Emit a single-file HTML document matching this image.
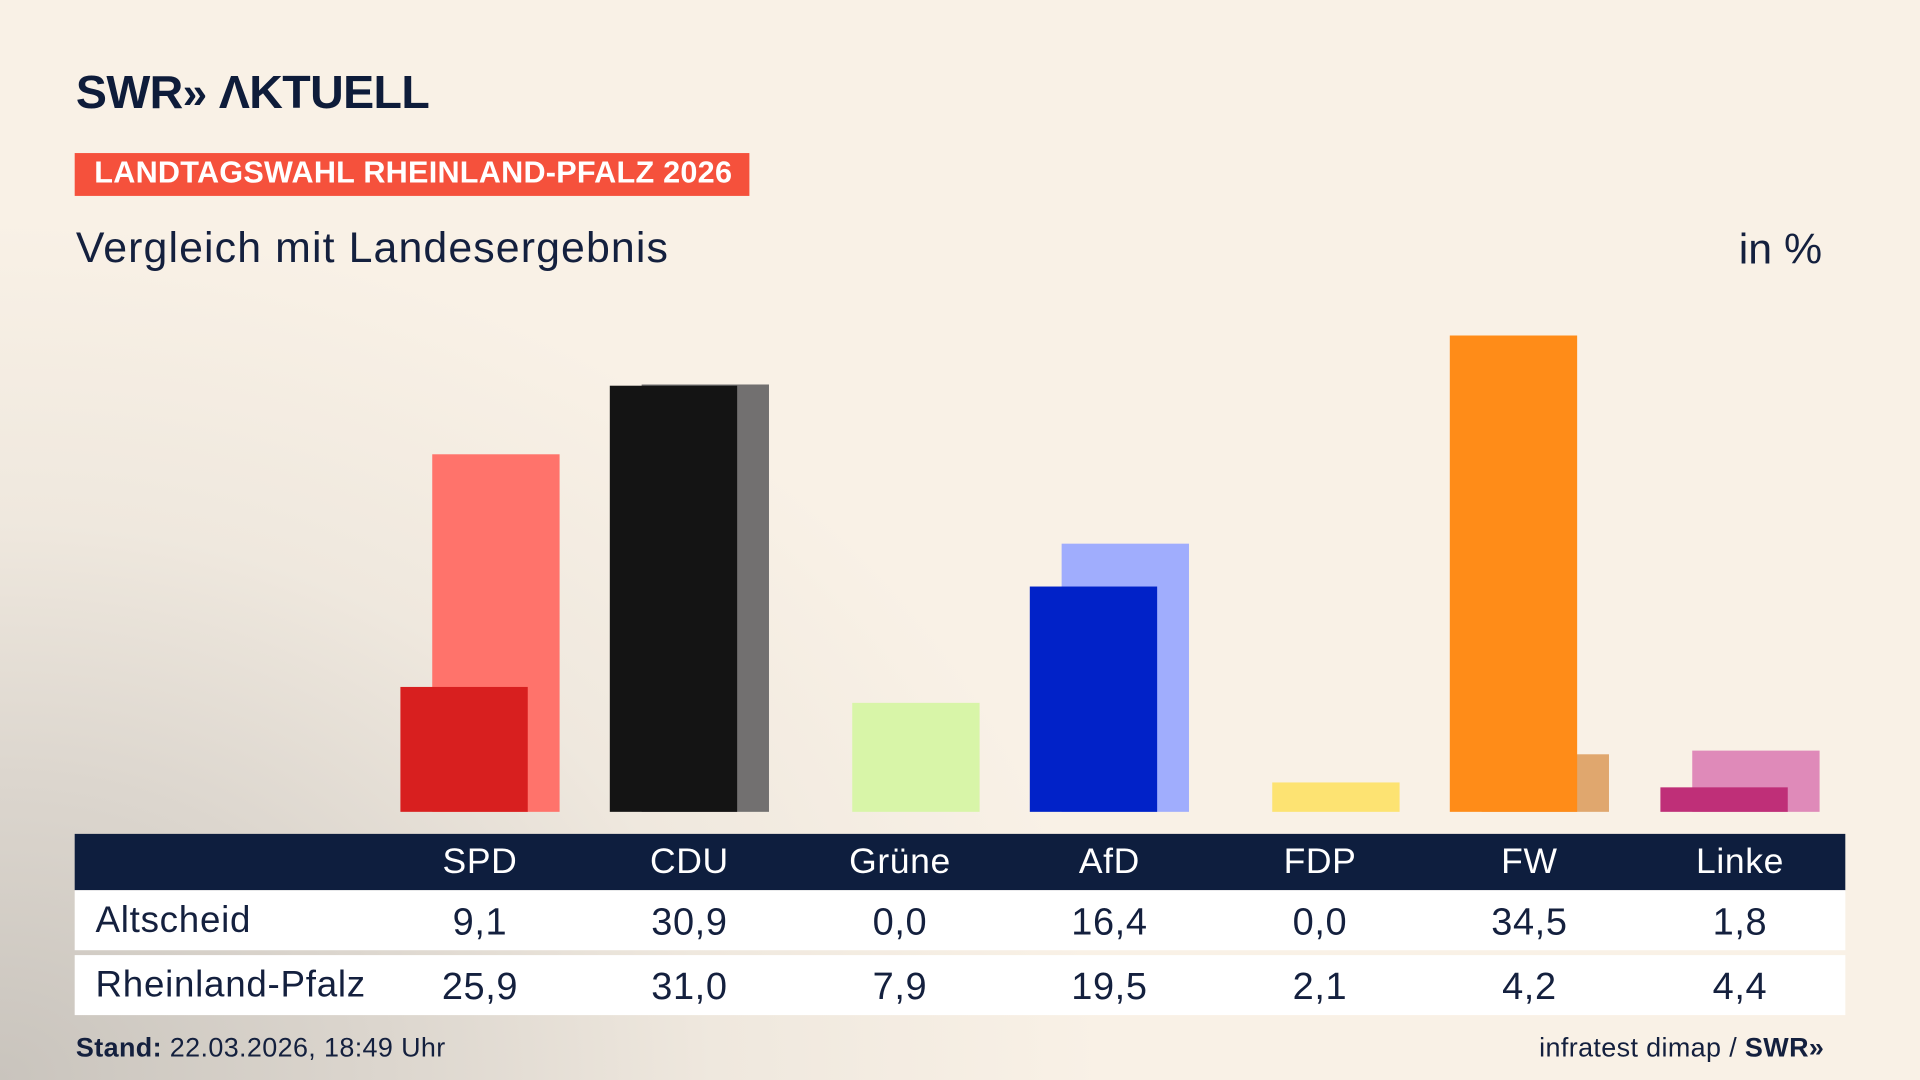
<!DOCTYPE html>
<html><head><meta charset="utf-8"><style>
html,body{margin:0;padding:0;width:1920px;height:1080px;overflow:hidden}
#w{position:absolute;left:0;top:0;width:1568px;height:882px;transform:scale(1.22449);transform-origin:0 0;
background:radial-gradient(ellipse 900px 700px at 0px 880px,#c9c4bd 0%,#dcd6ce 35%,#efe8de 65%,rgba(248,240,229,0) 100%),#f9f1e6;
font-family:"Liberation Sans","DejaVu Sans",sans-serif;color:#0e1c3a}
.a{position:absolute;white-space:nowrap}
.b{position:absolute}
.t{position:absolute;width:140px;text-align:center;font-size:31px;letter-spacing:0.5px}
</style></head><body><div id="w">
<div class="a" style="left:62px;top:55px;font-size:38px;font-weight:bold;letter-spacing:-0.5px;color:#0e1c3a">SWR<span style="font-size:36px">»</span> ΛKTUELL</div>
<div class="a" style="left:61px;top:125px;width:551px;height:35px;background:#f5513c"></div>
<div class="a" style="left:77px;top:127px;font-size:25px;font-weight:bold;color:#fff;letter-spacing:0.2px">LANDTAGSWAHL RHEINLAND-PFALZ 2026</div>
<div class="a" style="left:62px;top:183px;font-size:35px;color:#14203e;letter-spacing:0.9px">Vergleich mit Landesergebnis</div>
<div class="a" style="left:1420px;top:184px;font-size:35px;color:#14203e">in %</div>

<div class="b" style="left:353px;top:371px;width:104px;height:292px;background:#ff736b"></div>
<div class="b" style="left:327px;top:561px;width:104px;height:102px;background:#d81f1f"></div>
<div class="b" style="left:524px;top:314px;width:104px;height:349px;background:#727070"></div>
<div class="b" style="left:498px;top:315px;width:104px;height:348px;background:#141414"></div>
<div class="b" style="left:696px;top:574px;width:104px;height:89px;background:#d8f5a8"></div>
<div class="b" style="left:867px;top:444px;width:104px;height:219px;background:#a0adfd"></div>
<div class="b" style="left:841px;top:479px;width:104px;height:184px;background:#0122c8"></div>
<div class="b" style="left:1039px;top:639px;width:104px;height:24px;background:#fde372"></div>
<div class="b" style="left:1210px;top:616px;width:104px;height:47px;background:#e0a76e"></div>
<div class="b" style="left:1184px;top:274px;width:104px;height:389px;background:#ff8c18"></div>
<div class="b" style="left:1382px;top:613px;width:104px;height:50px;background:#df8ab9"></div>
<div class="b" style="left:1356px;top:643px;width:104px;height:20px;background:#bf2f78"></div>

<div class="a" style="left:61px;top:681px;width:1446px;height:46px;background:#0e1e3e"></div>
<div class="a" style="left:61px;top:727px;width:1446px;height:49px;background:#fff"></div>
<div class="a" style="left:61px;top:780px;width:1446px;height:49px;background:#fff"></div>
<div style="position:absolute;left:0;top:688px;color:#fff">
<div class="t" style="left:322px;font-size:29px">SPD</div><div class="t" style="left:493px;font-size:29px">CDU</div><div class="t" style="left:665px;font-size:29px">Grüne</div><div class="t" style="left:836px;font-size:29px">AfD</div><div class="t" style="left:1008px;font-size:29px">FDP</div><div class="t" style="left:1179px;font-size:29px">FW</div><div class="t" style="left:1351px;font-size:29px">Linke</div></div>
<div style="position:absolute;left:0;top:735px;color:#14203e">
<div class="a" style="left:78px;font-size:30px;letter-spacing:0.6px">Altscheid</div>
<div class="t" style="left:322px">9,1</div><div class="t" style="left:493px">30,9</div><div class="t" style="left:665px">0,0</div><div class="t" style="left:836px">16,4</div><div class="t" style="left:1008px">0,0</div><div class="t" style="left:1179px">34,5</div><div class="t" style="left:1351px">1,8</div></div>
<div style="position:absolute;left:0;top:788px;color:#14203e">
<div class="a" style="left:78px;font-size:30px;letter-spacing:0.6px">Rheinland-Pfalz</div>
<div class="t" style="left:322px">25,9</div><div class="t" style="left:493px">31,0</div><div class="t" style="left:665px">7,9</div><div class="t" style="left:836px">19,5</div><div class="t" style="left:1008px">2,1</div><div class="t" style="left:1179px">4,2</div><div class="t" style="left:1351px">4,4</div></div>
<div class="a" style="left:62px;top:843px;font-size:22px;color:#14203e;letter-spacing:0.3px"><b>Stand:</b> 22.03.2026, 18:49 Uhr</div>
<div class="a" style="left:1257px;top:843px;font-size:22px;color:#14203e;letter-spacing:0.3px">infratest dimap / <b>SWR»</b></div>
</div></body></html>
